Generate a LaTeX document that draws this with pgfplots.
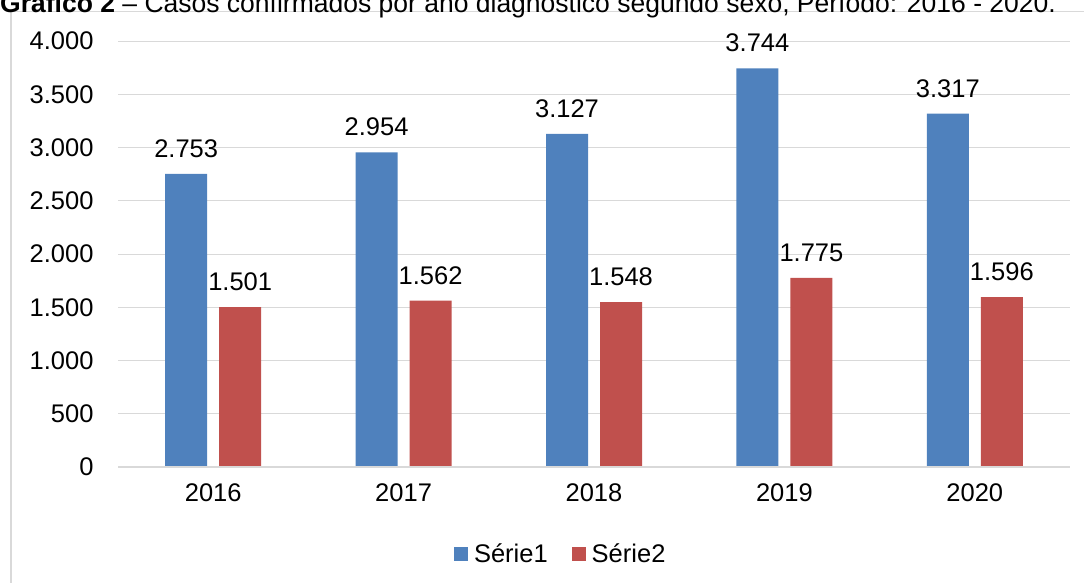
\documentclass[border=0pt]{standalone}
\usepackage{pgfplots}
\pgfplotsset{compat=1.18}
\usepackage{fontspec}
\setmainfont{Liberation Sans}
\definecolor{sblue}{HTML}{4F81BD}
\definecolor{sred}{HTML}{C0504D}
\definecolor{gridgray}{HTML}{D9D9D9}
\begin{document}
\begin{tikzpicture}[x=1pt,y=1pt]
\useasboundingbox (0,0) rectangle (1084,-582);
\clip (0,0) rectangle (1084,-582);
\draw[gridgray, line width=1.2pt] (11,-700) -- (11,-11.5) -- (1200,-11.5);
\node[anchor=base west, inner sep=0pt, font=\fontsize{26.5}{30}\selectfont] at (0,-12) {\textbf{Gráfico 2} – Casos confirmados por ano diagnóstico segundo sexo, Período: 2016 - 2020.};
\begin{axis}[
  at={(118pt,-467pt)}, anchor=south west,
  scale only axis, width=952pt, height=426pt,
  ybar=12pt, bar width=42pt,
  xmin=-0.5, xmax=4.5, ymin=0, ymax=4000,
  xtick={0,1,2,3,4}, xticklabels={2016,2017,2018,2019,2020},
  ytick={0,500,1000,1500,2000,2500,3000,3500,4000},
  ymajorgrids, grid style={gridgray, line width=1pt},
  axis line style={draw=none},
  axis x line*=bottom, axis y line*=left,
  major tick length=0pt,
  tick label style={font=\fontsize{25.5}{30}\selectfont, text=black},
  /pgf/number format/assume math mode=true,
  /pgf/number format/.cd, 1000 sep={.}, /pgfplots/.cd,
  yticklabel style={xshift=-21pt},
  xticklabel style={yshift=-13pt},
  nodes near coords,
  nodes near coords style={font=\fontsize{25.5}{30}\selectfont, text=black, inner sep=0pt, yshift=16pt, /pgf/number format/assume math mode=true, /pgf/number format/1000 sep={.}},
  legend style={at={(0.464,-0.204)}, anchor=center, draw=none, fill=none, font=\fontsize{25.5}{30}\selectfont, legend columns=2,
    nodes={inner sep=0pt},
    /tikz/every even column/.append style={column sep=24pt},
    /tikz/every odd column/.append style={column sep=6pt}},
  legend image code/.code={\fill[#1] (0pt,-7pt) rectangle (14pt,7pt);},
]
\addplot[fill=sblue, draw=none] coordinates {(0,2753) (1,2954) (2,3127) (3,3744) (4,3317)};
\addplot[fill=sred, draw=none] coordinates {(0,1501) (1,1562) (2,1548) (3,1775) (4,1596)};
\legend{Série1,Série2}
\draw[gridgray, line width=1.5pt] (axis cs:-0.5,0) -- (axis cs:4.5,0);
\end{axis}
\end{tikzpicture}
\end{document}
